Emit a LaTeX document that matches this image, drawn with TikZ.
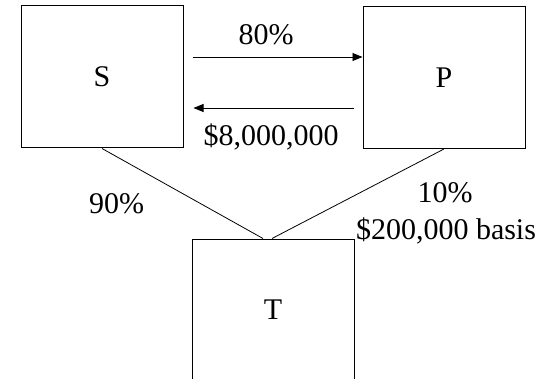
\documentclass[tikz,border=0pt]{standalone}
\usepackage{fontspec}
\setmainfont{Liberation Serif}
\usetikzlibrary{arrows.meta,calc}
\begin{document}
\begin{tikzpicture}[x=1pt,y=-1pt,
  entity/.style={draw,line width=1pt,minimum width=162pt,minimum height=142pt,inner sep=0pt,font=\fontsize{30}{35}\selectfont},
  lbl/.style={anchor=base,inner sep=0pt,font=\fontsize{30}{35}\selectfont},
  conn/.style={line width=0.8pt},
  arr/.style={line width=0.8pt,-{Triangle[length=10pt,width=8pt]}}]
\useasboundingbox (0,0) rectangle (548,379);
\clip (0,0) rectangle (548,379);
\node[entity] (S) at (102,77) {S};
\node[entity] (P) at (444,77.5) {P};
\node[entity] (T) at (273,310) {T};
\draw[arr] ([xshift=9pt,yshift=20pt]S.east) -- ([yshift=20.5pt]P.west);
\draw[arr] ([xshift=-9pt,yshift=-30.5pt]P.west) -- ([xshift=10pt,yshift=-31pt]S.east);
\draw[conn] (S.south) -- ([xshift=-10pt]T.north);
\draw[conn] (P.south) -- ([xshift=-1pt]T.north);
\node[lbl] (l80) at (266,45) {80\%};
\node[lbl] (l8m) at (271,146) {\$8,000,000};
\node[lbl] (l90) at (116.5,214) {90\%};
\node[lbl] (l10) at (445,203) {10\%};
\node[lbl] (lbasis) at (446,240) {\$200,000 basis};
\end{tikzpicture}
\end{document}
